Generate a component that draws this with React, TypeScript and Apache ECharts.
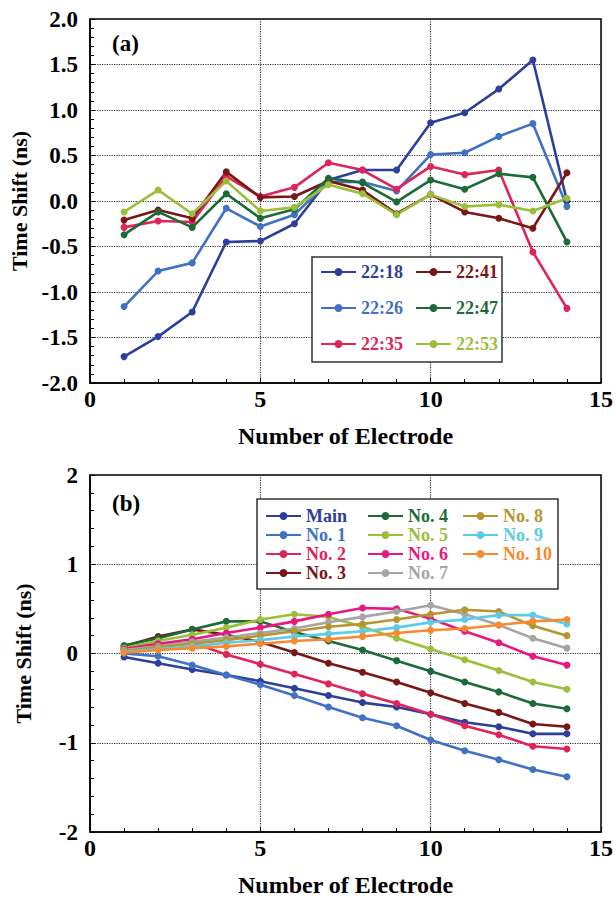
import React, { useEffect, useRef } from "react";
import * as echarts from "echarts";

const electrodes = [1, 2, 3, 4, 5, 6, 7, 8, 9, 10, 11, 12, 13, 14];

// Panel (a)
const namesA = ["22:18", "22:26", "22:35", "22:41", "22:47", "22:53"];
const colorsA = ["#2b3f9b", "#3f72c2", "#e0245a", "#7a1616", "#1c6b37", "#9cbf3b"];
const s2218 = [-1.71, -1.49, -1.22, -0.45, -0.44, -0.25, 0.23, 0.34, 0.34, 0.86, 0.97, 1.23, 1.55, 0.0];
const s2226 = [-1.16, -0.77, -0.68, -0.08, -0.28, -0.15, 0.21, 0.21, 0.11, 0.51, 0.53, 0.71, 0.85, -0.06];
const s2235 = [-0.29, -0.22, -0.23, 0.27, 0.05, 0.15, 0.42, 0.34, 0.13, 0.38, 0.29, 0.34, -0.56, -1.18];
const s2241 = [-0.21, -0.1, -0.19, 0.32, 0.04, 0.05, 0.22, 0.12, -0.14, 0.07, -0.12, -0.19, -0.3, 0.31];
const s2247 = [-0.37, -0.12, -0.29, 0.08, -0.19, -0.09, 0.25, 0.2, -0.01, 0.23, 0.13, 0.3, 0.26, -0.45];
const s2253 = [-0.12, 0.12, -0.14, 0.22, -0.11, -0.07, 0.18, 0.08, -0.15, 0.07, -0.06, -0.04, -0.11, 0.03];
const valuesA = [s2218, s2226, s2235, s2241, s2247, s2253];

// Panel (b)
const namesB = ["Main", "No. 1", "No. 2", "No. 3", "No. 4", "No. 5", "No. 6", "No. 7", "No. 8", "No. 9", "No. 10"];
const colorsB = ["#2b3f9b", "#3f72c2", "#e0245a", "#7a1616", "#1c6b37", "#9cbf3b", "#e6197f", "#a5a5a5", "#b5962e", "#5ccbe6", "#f78a2e"];
const bMain = [-0.04, -0.11, -0.18, -0.24, -0.31, -0.39, -0.47, -0.55, -0.6, -0.68, -0.77, -0.82, -0.9, -0.9];
const bNo1 = [0.0, -0.03, -0.13, -0.24, -0.35, -0.47, -0.6, -0.72, -0.81, -0.97, -1.09, -1.19, -1.3, -1.38];
const bNo2 = [0.05, 0.1, 0.12, -0.01, -0.12, -0.23, -0.34, -0.45, -0.56, -0.68, -0.81, -0.91, -1.04, -1.07];
const bNo3 = [0.08, 0.19, 0.27, 0.21, 0.13, 0.01, -0.11, -0.21, -0.32, -0.44, -0.56, -0.66, -0.79, -0.82];
const bNo4 = [0.09, 0.17, 0.27, 0.36, 0.36, 0.24, 0.14, 0.04, -0.08, -0.2, -0.32, -0.43, -0.56, -0.62];
const bNo5 = [0.06, 0.14, 0.21, 0.29, 0.38, 0.44, 0.41, 0.3, 0.17, 0.05, -0.07, -0.19, -0.32, -0.4];
const bNo6 = [0.05, 0.11, 0.16, 0.23, 0.29, 0.36, 0.44, 0.51, 0.5, 0.39, 0.25, 0.12, -0.03, -0.13];
const bNo7 = [0.04, 0.08, 0.13, 0.18, 0.23, 0.28, 0.35, 0.41, 0.47, 0.54, 0.44, 0.32, 0.17, 0.06];
const bNo8 = [0.03, 0.07, 0.11, 0.15, 0.2, 0.25, 0.3, 0.33, 0.38, 0.44, 0.49, 0.47, 0.31, 0.2];
const bNo9 = [0.02, 0.05, 0.08, 0.12, 0.15, 0.19, 0.22, 0.25, 0.29, 0.35, 0.38, 0.43, 0.43, 0.33];
const bNo10 = [0.01, 0.04, 0.06, 0.08, 0.11, 0.14, 0.16, 0.19, 0.23, 0.26, 0.28, 0.32, 0.36, 0.38];
const valuesB = [bMain, bNo1, bNo2, bNo3, bNo4, bNo5, bNo6, bNo7, bNo8, bNo9, bNo10];

const FONT = "Liberation Serif, Times New Roman, serif";

export default function App() {
  const ref = useRef<HTMLDivElement>(null);
  useEffect(() => {
    if (!ref.current) return;
    const chart = echarts.init(ref.current, undefined, { renderer: "svg" });

    const xAxisBase = (gridIndex: number) => ({
      type: "value",
      gridIndex,
      min: 0,
      max: 15,
      interval: 5,
      name: "Number of Electrode",
      nameLocation: "middle",
      nameGap: 41,
      nameTextStyle: { fontFamily: FONT, fontWeight: "bold", fontSize: 24, color: "#000" },
      axisLine: { show: true, onZero: false, lineStyle: { color: "#000", width: 1.5 } },
      axisTick: { show: true, inside: true, length: 5, lineStyle: { color: "#000", width: 1 } },
      minorTick: { show: true, splitNumber: 5, length: 4, lineStyle: { color: "#000", width: 1 } },
      axisLabel: { fontFamily: FONT, fontWeight: "bold", fontSize: 24, color: "#000", margin: 4 },
      splitLine: { show: true, lineStyle: { color: "#333", type: "dotted", width: 1.2 } },
    });

    const yAxisBase = (gridIndex: number, interval: number, decimals: number) => ({
      type: "value",
      gridIndex,
      min: -2,
      max: 2,
      interval,
      name: "Time Shift (ns)",
      nameLocation: "middle",
      nameGap: 56,
      nameRotate: 90,
      nameTextStyle: { fontFamily: FONT, fontWeight: "bold", fontSize: 22, color: "#000" },
      axisLine: { show: true, onZero: false, lineStyle: { color: "#000", width: 1.5 } },
      axisTick: { show: true, inside: true, length: 5, lineStyle: { color: "#000", width: 1 } },
      minorTick: { show: true, splitNumber: 5, length: 4, lineStyle: { color: "#000", width: 1 } },
      axisLabel: {
        fontFamily: FONT,
        fontWeight: "bold",
        fontSize: 23,
        color: "#000",
        margin: 12,
        formatter: (v: number) => v.toFixed(decimals),
      },
      splitLine: { show: true, lineStyle: { color: "#333", type: "dotted", width: 1.2 } },
    });

    const mkSeries = (names: string[], colors: string[], values: number[][], idx: number) =>
      names.map((n, i) => ({
        name: n,
        type: "line",
        xAxisIndex: idx,
        yAxisIndex: idx,
        data: electrodes.map((x, j) => [x, values[i][j]]),
        symbol: "circle",
        symbolSize: 7,
        color: colors[i],
        lineStyle: { width: 2.6, color: colors[i] },
        itemStyle: { color: colors[i] },
        z: 2,
      }));

    const legendItem = (name: string, color: string) => ({
      name,
      textStyle: { color, fontFamily: FONT, fontWeight: "bold", fontSize: 18, lineHeight: 18 },
    });

    const legendCol = (items: any[], left: number, top: number, gap: number) => ({
      orient: "vertical",
      left,
      top,
      padding: 0,
      itemGap: gap,
      itemWidth: 35,
      itemHeight: 10,
      selectedMode: false,
      data: items,
      z: 5,
    });

    const option: any = {
      animation: false,
      backgroundColor: "#fff",
      textStyle: { fontFamily: FONT },
      grid: [
        { left: 90, right: 12, top: 19, height: 364, show: true, borderColor: "#000", borderWidth: 1.5 },
        { left: 90, right: 12, top: 475, height: 363, show: true, borderColor: "#000", borderWidth: 1.5 },
      ],
      xAxis: [xAxisBase(0), xAxisBase(1)],
      yAxis: [yAxisBase(0, 0.5, 1), yAxisBase(1, 1, 0)],
      legend: [
        legendCol([0, 1, 2].map((i) => legendItem(namesA[i], colorsA[i])), 320, 263, 18),
        legendCol([3, 4, 5].map((i) => legendItem(namesA[i], colorsA[i])), 415, 263, 18),
        legendCol([0, 1, 2, 3].map((i) => legendItem(namesB[i], colorsB[i])), 265, 507, 1),
        legendCol([4, 5, 6, 7].map((i) => legendItem(namesB[i], colorsB[i])), 367, 507, 1),
        legendCol([8, 9, 10].map((i) => legendItem(namesB[i], colorsB[i])), 462, 507, 1),
      ],
      graphic: [
        {
          type: "rect",
          shape: { x: 312, y: 257, width: 190, height: 105 },
          style: { fill: "#fff", stroke: "#333", lineWidth: 1.5 },
          z: 3,
        },
        {
          type: "rect",
          shape: { x: 257, y: 499, width: 301, height: 90 },
          style: { fill: "#fff", stroke: "#333", lineWidth: 1.5 },
          z: 3,
        },
        {
          type: "text",
          x: 112,
          y: 43,
          style: { text: "(a)", fontFamily: FONT, fontWeight: "bold", fontSize: 23, fill: "#000", verticalAlign: "middle" },
          z: 5,
        },
        {
          type: "text",
          x: 112,
          y: 503,
          style: { text: "(b)", fontFamily: FONT, fontWeight: "bold", fontSize: 23, fill: "#000", verticalAlign: "middle" },
          z: 5,
        },
      ],
      series: [...mkSeries(namesA, colorsA, valuesA, 0), ...mkSeries(namesB, colorsB, valuesB, 1)],
    };
    chart.setOption(option);
    return () => chart.dispose();
  }, []);
  return <div ref={ref} style={{ position: "fixed", left: 0, top: 0, width: 616, height: 898 }} />;
}
